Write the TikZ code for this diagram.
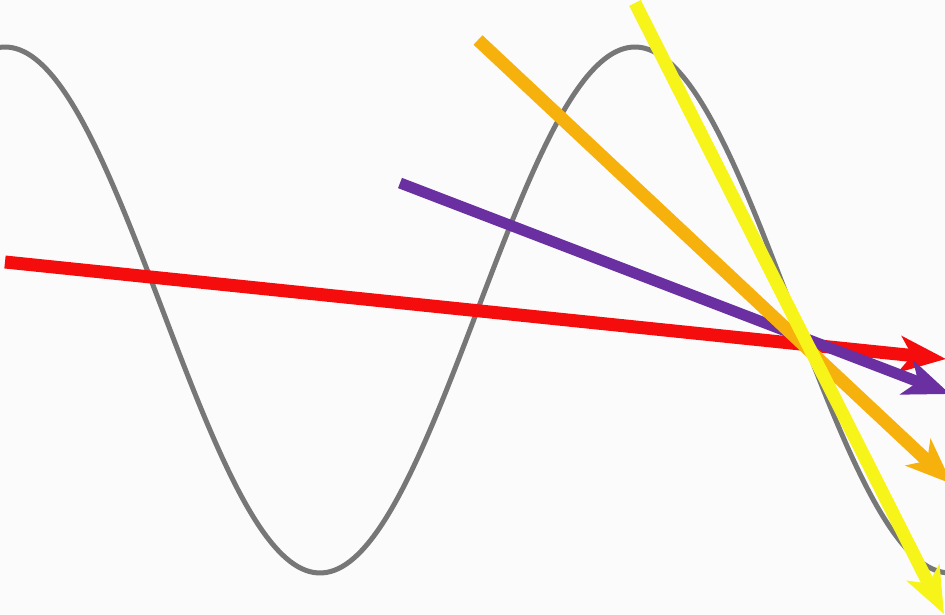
\documentclass[tikz,border=0pt]{standalone}
\usetikzlibrary{arrows.meta}
\definecolor{bgc}{HTML}{FBFBFB}
\definecolor{wave}{HTML}{777777}
\definecolor{ared}{HTML}{F50D0D}
\definecolor{apurple}{HTML}{6A2FA0}
\definecolor{aorange}{HTML}{F6B10C}
\definecolor{ayellow}{HTML}{F7F41A}
\tikzset{
  ray/.style={line width=13pt, line cap=butt, -{Stealth[length=46pt,width=36pt,inset=12pt]}},
}
\begin{document}
\begin{tikzpicture}[x=1pt,y=-1pt]
\fill[bgc] (0,0) rectangle (945,615);
\useasboundingbox (0,0) rectangle (945,615);
\clip (0,0) rectangle (945,615);
\draw[wave, line width=5pt] plot[domain=0:950, samples=240, smooth] (\x,{310-263*cos(deg(2*pi*(\x-635)/630))});
\coordinate (rs) at (5,262);
\coordinate (re) at (946,359);
\coordinate (ps) at (400,183);
\coordinate (pe) at (950,394);
\coordinate (os) at (478,40);
\coordinate (oe) at (952,484);
\coordinate (ys) at (635,3);
\coordinate (ye) at (944,614);
\draw[ray, ared] (rs) -- (re);
\draw[ray, apurple, line width=11pt] (ps) -- (pe);
\draw[ray, aorange] (os) -- (oe);
\draw[ray, ayellow] (ys) -- (ye);
\end{tikzpicture}
\end{document}
